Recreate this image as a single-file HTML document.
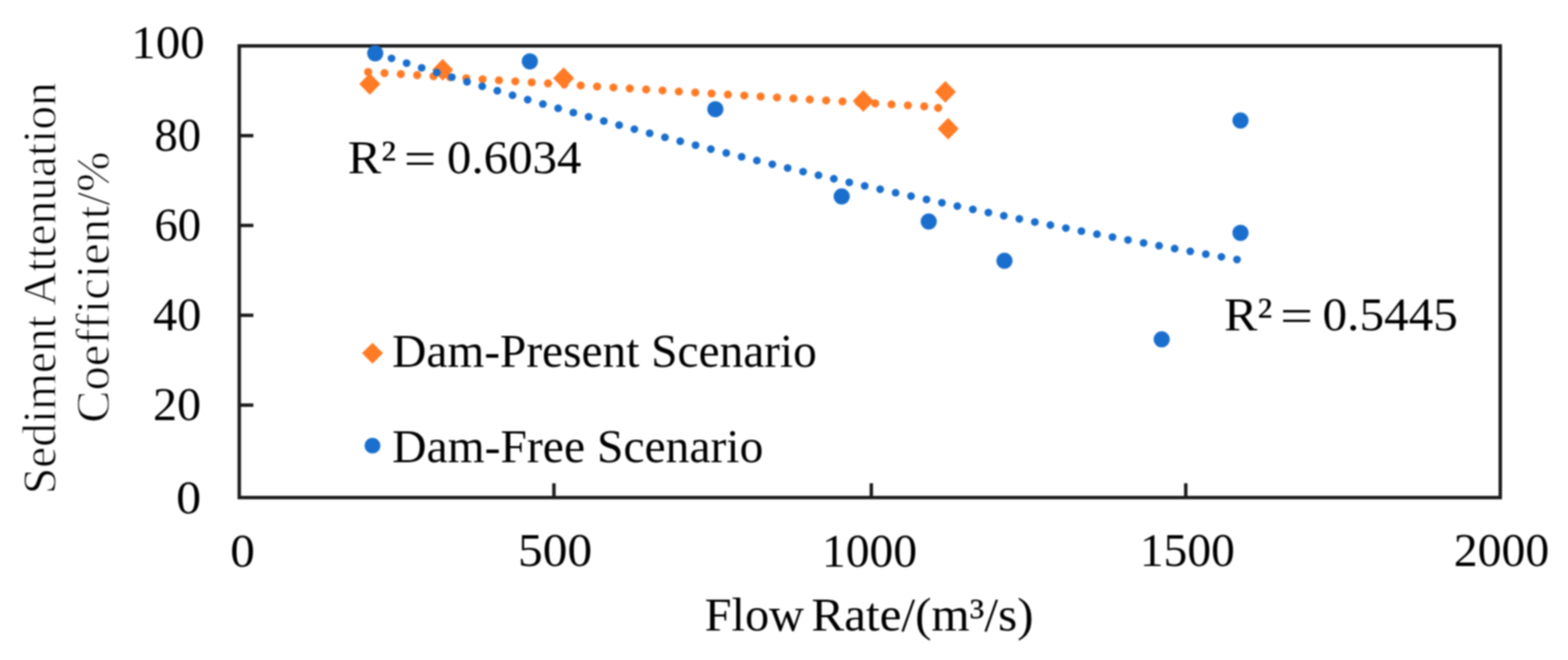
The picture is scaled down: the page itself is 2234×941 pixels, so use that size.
<!DOCTYPE html>
<html><head><meta charset="utf-8"><title>Sediment Attenuation Coefficient vs Flow Rate</title>
<style>
html,body{margin:0;padding:0;background:#fff;}
body{width:2234px;height:941px;overflow:hidden;}
svg{display:block;}
#wrap{filter:blur(0.8px);width:2234px;height:941px;}
</style></head>
<body>
<div id="wrap"><svg width="2234" height="941" viewBox="0 0 2234 941">
<rect width="2234" height="941" fill="#fff"/>
<g>
<rect x="340.9" y="65.44" width="1796.6" height="643.96" fill="none" stroke="#1c1c1c" stroke-width="4.9"/>
<line x1="340.9" y1="193.4" x2="361.0" y2="193.4" stroke="#1c1c1c" stroke-width="4.9"/>
<line x1="340.9" y1="321.4" x2="361.0" y2="321.4" stroke="#1c1c1c" stroke-width="4.9"/>
<line x1="340.9" y1="449.5" x2="361.0" y2="449.5" stroke="#1c1c1c" stroke-width="4.9"/>
<line x1="340.9" y1="577.6" x2="361.0" y2="577.6" stroke="#1c1c1c" stroke-width="4.9"/>
<line x1="789.2" y1="709.4" x2="789.2" y2="689.0" stroke="#1c1c1c" stroke-width="4.9"/>
<line x1="1241.4" y1="709.4" x2="1241.4" y2="689.0" stroke="#1c1c1c" stroke-width="4.9"/>
<line x1="1689.4" y1="709.4" x2="1689.4" y2="689.0" stroke="#1c1c1c" stroke-width="4.9"/>
</g>
<g>
<path d="M526.9 104.3L541.9 119.8L526.9 135.3L511.9 119.8Z" fill="#ff7b26"/>
<path d="M630.7 83.9L645.7 99.4L630.7 114.9L615.7 99.4Z" fill="#ff7b26"/>
<path d="M803.1 96.0L818.1 111.5L803.1 127.0L788.1 111.5Z" fill="#ff7b26"/>
<path d="M1230.0 128.4L1245.0 143.9L1230.0 159.4L1215.0 143.9Z" fill="#ff7b26"/>
<path d="M1346.9 115.5L1361.9 131.0L1346.9 146.5L1331.9 131.0Z" fill="#ff7b26"/>
<path d="M1350.9 167.9L1365.9 183.4L1350.9 198.9L1335.9 183.4Z" fill="#ff7b26"/>
<circle cx="534.6" cy="76.0" r="11.5" fill="#1a6fce"/>
<circle cx="754.9" cy="87.5" r="11.5" fill="#1a6fce"/>
<circle cx="1019.2" cy="155.7" r="11.5" fill="#1a6fce"/>
<circle cx="1199.2" cy="280.1" r="11.5" fill="#1a6fce"/>
<circle cx="1323.2" cy="315.8" r="11.5" fill="#1a6fce"/>
<circle cx="1767.4" cy="171.8" r="11.5" fill="#1a6fce"/>
<circle cx="1767.4" cy="332.0" r="11.5" fill="#1a6fce"/>
<circle cx="1431.1" cy="371.8" r="11.5" fill="#1a6fce"/>
<circle cx="1655.1" cy="483.8" r="11.5" fill="#1a6fce"/>
<circle cx="524.5" cy="102.6" r="5.8" fill="#ff7b26"/>
<circle cx="547.8" cy="104.1" r="5.8" fill="#ff7b26"/>
<circle cx="571.1" cy="105.6" r="5.8" fill="#ff7b26"/>
<circle cx="594.4" cy="107.1" r="5.8" fill="#ff7b26"/>
<circle cx="617.7" cy="108.6" r="5.8" fill="#ff7b26"/>
<circle cx="641.0" cy="110.0" r="5.8" fill="#ff7b26"/>
<circle cx="664.3" cy="111.5" r="5.8" fill="#ff7b26"/>
<circle cx="687.6" cy="113.0" r="5.8" fill="#ff7b26"/>
<circle cx="710.9" cy="114.5" r="5.8" fill="#ff7b26"/>
<circle cx="734.2" cy="116.0" r="5.8" fill="#ff7b26"/>
<circle cx="757.5" cy="117.4" r="5.8" fill="#ff7b26"/>
<circle cx="780.8" cy="118.9" r="5.8" fill="#ff7b26"/>
<circle cx="804.1" cy="120.3" r="5.8" fill="#ff7b26"/>
<circle cx="827.4" cy="121.8" r="5.8" fill="#ff7b26"/>
<circle cx="850.7" cy="123.3" r="5.8" fill="#ff7b26"/>
<circle cx="874.0" cy="124.7" r="5.8" fill="#ff7b26"/>
<circle cx="897.3" cy="126.1" r="5.8" fill="#ff7b26"/>
<circle cx="920.6" cy="127.6" r="5.8" fill="#ff7b26"/>
<circle cx="943.9" cy="129.0" r="5.8" fill="#ff7b26"/>
<circle cx="967.2" cy="130.5" r="5.8" fill="#ff7b26"/>
<circle cx="990.5" cy="131.9" r="5.8" fill="#ff7b26"/>
<circle cx="1013.8" cy="133.3" r="5.8" fill="#ff7b26"/>
<circle cx="1037.1" cy="134.8" r="5.8" fill="#ff7b26"/>
<circle cx="1060.4" cy="136.2" r="5.8" fill="#ff7b26"/>
<circle cx="1083.7" cy="137.6" r="5.8" fill="#ff7b26"/>
<circle cx="1107.0" cy="139.0" r="5.8" fill="#ff7b26"/>
<circle cx="1130.4" cy="140.4" r="5.8" fill="#ff7b26"/>
<circle cx="1153.7" cy="141.8" r="5.8" fill="#ff7b26"/>
<circle cx="1177.0" cy="143.2" r="5.8" fill="#ff7b26"/>
<circle cx="1200.3" cy="144.6" r="5.8" fill="#ff7b26"/>
<circle cx="1223.6" cy="146.0" r="5.8" fill="#ff7b26"/>
<circle cx="1246.9" cy="147.4" r="5.8" fill="#ff7b26"/>
<circle cx="1270.2" cy="148.8" r="5.8" fill="#ff7b26"/>
<circle cx="1293.5" cy="150.2" r="5.8" fill="#ff7b26"/>
<circle cx="1316.8" cy="151.6" r="5.8" fill="#ff7b26"/>
<circle cx="1336.7" cy="153.9" r="5.8" fill="#ff7b26"/>
<circle cx="536.3" cy="76.3" r="5.55" fill="#1a6fce"/>
<circle cx="557.8" cy="83.2" r="5.55" fill="#1a6fce"/>
<circle cx="579.3" cy="90.0" r="5.55" fill="#1a6fce"/>
<circle cx="600.8" cy="96.7" r="5.55" fill="#1a6fce"/>
<circle cx="622.3" cy="103.4" r="5.55" fill="#1a6fce"/>
<circle cx="643.8" cy="110.0" r="5.55" fill="#1a6fce"/>
<circle cx="665.4" cy="116.6" r="5.55" fill="#1a6fce"/>
<circle cx="687.0" cy="123.0" r="5.55" fill="#1a6fce"/>
<circle cx="708.6" cy="129.4" r="5.55" fill="#1a6fce"/>
<circle cx="730.2" cy="135.8" r="5.55" fill="#1a6fce"/>
<circle cx="751.8" cy="142.1" r="5.55" fill="#1a6fce"/>
<circle cx="773.5" cy="148.3" r="5.55" fill="#1a6fce"/>
<circle cx="795.2" cy="154.4" r="5.55" fill="#1a6fce"/>
<circle cx="816.9" cy="160.5" r="5.55" fill="#1a6fce"/>
<circle cx="838.6" cy="166.5" r="5.55" fill="#1a6fce"/>
<circle cx="860.3" cy="172.5" r="5.55" fill="#1a6fce"/>
<circle cx="882.1" cy="178.4" r="5.55" fill="#1a6fce"/>
<circle cx="903.8" cy="184.2" r="5.55" fill="#1a6fce"/>
<circle cx="925.6" cy="190.0" r="5.55" fill="#1a6fce"/>
<circle cx="947.4" cy="195.8" r="5.55" fill="#1a6fce"/>
<circle cx="969.2" cy="201.4" r="5.55" fill="#1a6fce"/>
<circle cx="991.0" cy="207.0" r="5.55" fill="#1a6fce"/>
<circle cx="1012.8" cy="212.6" r="5.55" fill="#1a6fce"/>
<circle cx="1034.7" cy="218.1" r="5.55" fill="#1a6fce"/>
<circle cx="1056.6" cy="223.5" r="5.55" fill="#1a6fce"/>
<circle cx="1078.4" cy="228.9" r="5.55" fill="#1a6fce"/>
<circle cx="1100.3" cy="234.2" r="5.55" fill="#1a6fce"/>
<circle cx="1122.2" cy="239.5" r="5.55" fill="#1a6fce"/>
<circle cx="1144.2" cy="244.7" r="5.55" fill="#1a6fce"/>
<circle cx="1166.1" cy="249.8" r="5.55" fill="#1a6fce"/>
<circle cx="1188.0" cy="254.9" r="5.55" fill="#1a6fce"/>
<circle cx="1210.0" cy="260.0" r="5.55" fill="#1a6fce"/>
<circle cx="1232.0" cy="265.0" r="5.55" fill="#1a6fce"/>
<circle cx="1254.0" cy="269.9" r="5.55" fill="#1a6fce"/>
<circle cx="1276.0" cy="274.8" r="5.55" fill="#1a6fce"/>
<circle cx="1298.0" cy="279.6" r="5.55" fill="#1a6fce"/>
<circle cx="1320.0" cy="284.4" r="5.55" fill="#1a6fce"/>
<circle cx="1342.0" cy="289.1" r="5.55" fill="#1a6fce"/>
<circle cx="1364.0" cy="293.8" r="5.55" fill="#1a6fce"/>
<circle cx="1386.1" cy="298.5" r="5.55" fill="#1a6fce"/>
<circle cx="1408.2" cy="303.0" r="5.55" fill="#1a6fce"/>
<circle cx="1430.2" cy="307.6" r="5.55" fill="#1a6fce"/>
<circle cx="1452.3" cy="312.1" r="5.55" fill="#1a6fce"/>
<circle cx="1474.4" cy="316.5" r="5.55" fill="#1a6fce"/>
<circle cx="1496.5" cy="320.9" r="5.55" fill="#1a6fce"/>
<circle cx="1518.6" cy="325.2" r="5.55" fill="#1a6fce"/>
<circle cx="1540.7" cy="329.5" r="5.55" fill="#1a6fce"/>
<circle cx="1562.9" cy="333.8" r="5.55" fill="#1a6fce"/>
<circle cx="1585.0" cy="338.0" r="5.55" fill="#1a6fce"/>
<circle cx="1607.1" cy="342.1" r="5.55" fill="#1a6fce"/>
<circle cx="1629.3" cy="346.3" r="5.55" fill="#1a6fce"/>
<circle cx="1651.4" cy="350.3" r="5.55" fill="#1a6fce"/>
<circle cx="1673.6" cy="354.4" r="5.55" fill="#1a6fce"/>
<circle cx="1695.8" cy="358.3" r="5.55" fill="#1a6fce"/>
<circle cx="1718.0" cy="362.3" r="5.55" fill="#1a6fce"/>
<circle cx="1740.2" cy="366.2" r="5.55" fill="#1a6fce"/>
<circle cx="1762.4" cy="370.0" r="5.55" fill="#1a6fce"/>
<path d="M530.7 488.8L545.7 503.6L530.7 518.4L515.7 503.6Z" fill="#ff7b26"/>
<circle cx="530.7" cy="635.4" r="11.2" fill="#1a6fce"/>
</g>
<g font-family="'Liberation Serif','Times New Roman',serif" font-size="68" fill="#000" style="font-variant-ligatures:none;font-kerning:normal">
<text x="558.8" y="523.0" textLength="605.0" lengthAdjust="spacingAndGlyphs">Dam-Present Scenario</text>
<text x="558.8" y="659.0" textLength="528.8" lengthAdjust="spacingAndGlyphs">Dam-Free Scenario</text>
<text transform="translate(78.8,704.6) rotate(-90)" textLength="587.3" lengthAdjust="spacingAndGlyphs" stroke="#fff" stroke-width="1.2">Sediment Attenuation</text>
<text transform="translate(155.2,603.0) rotate(-90)" textLength="387.0" lengthAdjust="spacingAndGlyphs" stroke="#fff" stroke-width="1.2">Coefficient/%</text>
<text x="495.4" y="247.1" textLength="69.1" lengthAdjust="spacingAndGlyphs">R²</text>
<text x="575.5" y="249.0" textLength="46.0" lengthAdjust="spacingAndGlyphs">=</text>
<text x="636.8" y="247.1" textLength="191.6" lengthAdjust="spacingAndGlyphs">0.6034</text>
<text x="1744.0" y="471.2" textLength="68.7" lengthAdjust="spacingAndGlyphs">R²</text>
<text x="1823.9" y="473.2" textLength="46.6" lengthAdjust="spacingAndGlyphs">=</text>
<text x="1884.3" y="471.2" textLength="192.8" lengthAdjust="spacingAndGlyphs">0.5445</text>
<text x="1004.0" y="898.7" textLength="141.5" lengthAdjust="spacingAndGlyphs">Flow</text>
<text x="1156.0" y="898.7" textLength="316.6" lengthAdjust="spacingAndGlyphs">Rate/(m³/s)</text>
<text x="187.0" y="82.6" textLength="104.7" lengthAdjust="spacingAndGlyphs">100</text>
<text x="220.0" y="215.4" textLength="66.6" lengthAdjust="spacingAndGlyphs">80</text>
<text x="220.0" y="342.9" textLength="66.7" lengthAdjust="spacingAndGlyphs">60</text>
<text x="218.0" y="471.4" textLength="68.9" lengthAdjust="spacingAndGlyphs">40</text>
<text x="218.0" y="599.2" textLength="68.6" lengthAdjust="spacingAndGlyphs">20</text>
<text x="251.0" y="732.1" textLength="35.6" lengthAdjust="spacingAndGlyphs">0</text>
<text x="328.0" y="807.8" textLength="35.2" lengthAdjust="spacingAndGlyphs">0</text>
<text x="738.0" y="807.0" textLength="105.7" lengthAdjust="spacingAndGlyphs">500</text>
<text x="1171.0" y="807.6" textLength="135.7" lengthAdjust="spacingAndGlyphs">1000</text>
<text x="1624.0" y="807.1" textLength="135.4" lengthAdjust="spacingAndGlyphs">1500</text>
<text x="2071.2" y="807.1" textLength="136.0" lengthAdjust="spacingAndGlyphs">2000</text>
</g>
</svg></div>
</body></html>
